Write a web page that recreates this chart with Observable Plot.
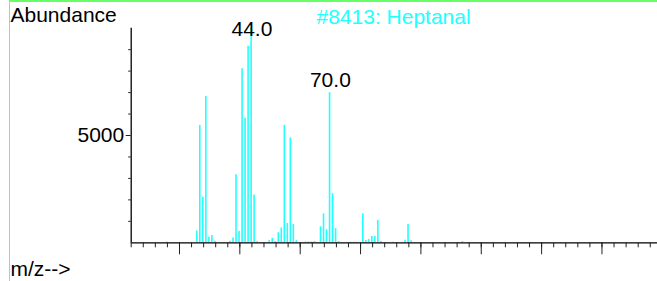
<!DOCTYPE html>
<html><head><meta charset="utf-8">
<script src="https://cdn.jsdelivr.net/npm/d3@7"></script>
<script src="https://cdn.jsdelivr.net/npm/@observablehq/plot@0.6"></script>
<style>
html,body{margin:0;padding:0;background:#fff;}
#wrap{position:relative;width:657px;height:281px;overflow:hidden;}
#frame{position:absolute;left:9px;top:0;width:700px;height:300px;border-top:2px solid #66ff66;border-left:1px solid #66ff66;box-sizing:border-box;pointer-events:none;}
svg{display:block;}
</style></head><body>
<div id="wrap"><div id="chart"></div><div id="frame"></div></div>
<script>
// m/z values and abundances
const mz =        [16, 26, 27, 28, 29, 30, 31, 32, 37, 38, 39, 40, 41, 42, 43, 44, 45, 46,
                   50, 51, 52, 53, 54, 55, 56, 57, 58, 59, 62, 63, 64, 65, 67, 68, 69, 70,
                   71, 72, 73, 77, 78, 79, 81, 82, 83, 84, 85, 86, 87, 91, 95, 96, 97, 114];
const abundance = [30, 550, 5470, 2120, 6820, 260, 335, 70, 70, 225, 3175, 530, 8105, 5805, 9160, 10000, 2210, 50,
                   110, 210, 60, 470, 690, 5475, 900, 4885, 860, 100, 40, 40, 40, 60, 745, 1350, 600, 6990,
                   2290, 665, 60, 30, 30, 30, 1350, 110, 150, 290, 290, 1040, 55, 30, 120, 850, 95, 60];
const peakMz = [44, 70];
const peakLabels = ["44.0", "70.0"];
const title = "#8413: Heptanal";
const yTitle = "Abundance";
const xTitle = "m/z-->";
const xMinorTicks = d3.range(4, 177, 4);
const xMajorTicks = [20, 40, 60, 80, 100, 120, 140, 160];
const yMinorTicks = [1000, 2000, 3000, 4000, 6000, 7000, 8000, 9000];
const yMajorTicks = [5000];

const data = mz.map((m, i) => ({mz: m, value: abundance[i]}));
const peaks = peakMz.map((m, i) => ({mz: m, value: abundance[mz.indexOf(m)], label: peakLabels[i]}));

const font = "'Liberation Sans', Arial, sans-serif";
const fs = 21;
const chart = Plot.plot({
  width: 657,
  height: 281,
  marginLeft: 130.7,
  marginRight: 0,
  marginTop: 27.7,
  marginBottom: 38.7,
  style: {fontFamily: font, background: "transparent", overflow: "visible"},
  x: {domain: [4, 178.4]},
  y: {domain: [0, 10000]},
  marks: [
    Plot.ruleX(data, {x: "mz", y1: 0, y2: "value", stroke: "#22ffff", strokeWidth: 1.6, dx: -0.8}),
    Plot.ruleY([0], {stroke: "#000", strokeWidth: 1.3}),
    Plot.ruleX([4], {stroke: "#000", strokeWidth: 1.3}),
    Plot.axisX({ticks: xMinorTicks, tickSize: 5, tickFormat: () => "", label: null, stroke: "#222"}),
    Plot.axisX({ticks: xMajorTicks, tickSize: 12, tickFormat: () => "", label: null, stroke: "#222"}),
    Plot.axisY({ticks: yMinorTicks, tickSize: 2.5, tickFormat: () => "", label: null, stroke: "#222"}),
    Plot.axisY({ticks: yMajorTicks, tickSize: 5, tickPadding: 2, tickFormat: d => String(d), fontSize: fs, label: null, stroke: "#222", fill: "#000"}),
    Plot.text(peaks, {x: "mz", y: d => Math.min(d.value, 9380), text: "label", dy: -6, lineAnchor: "bottom", fontSize: fs, fill: "#000"}),
    Plot.text([yTitle], {frameAnchor: "top-left", dx: -120.7, dy: -6, textAnchor: "start", lineAnchor: "bottom", fontSize: fs, fill: "#000"}),
    Plot.text([title], {frameAnchor: "top-left", dx: 185.3, dy: -4.4, textAnchor: "start", lineAnchor: "bottom", fontSize: fs, fill: "#22ffff"}),
    Plot.text([xTitle], {frameAnchor: "bottom-left", dx: -120.7, dy: 33.5, textAnchor: "start", lineAnchor: "bottom", fontSize: fs, fill: "#000"})
  ]
});
document.getElementById("chart").appendChild(chart);
</script>
</body></html>
